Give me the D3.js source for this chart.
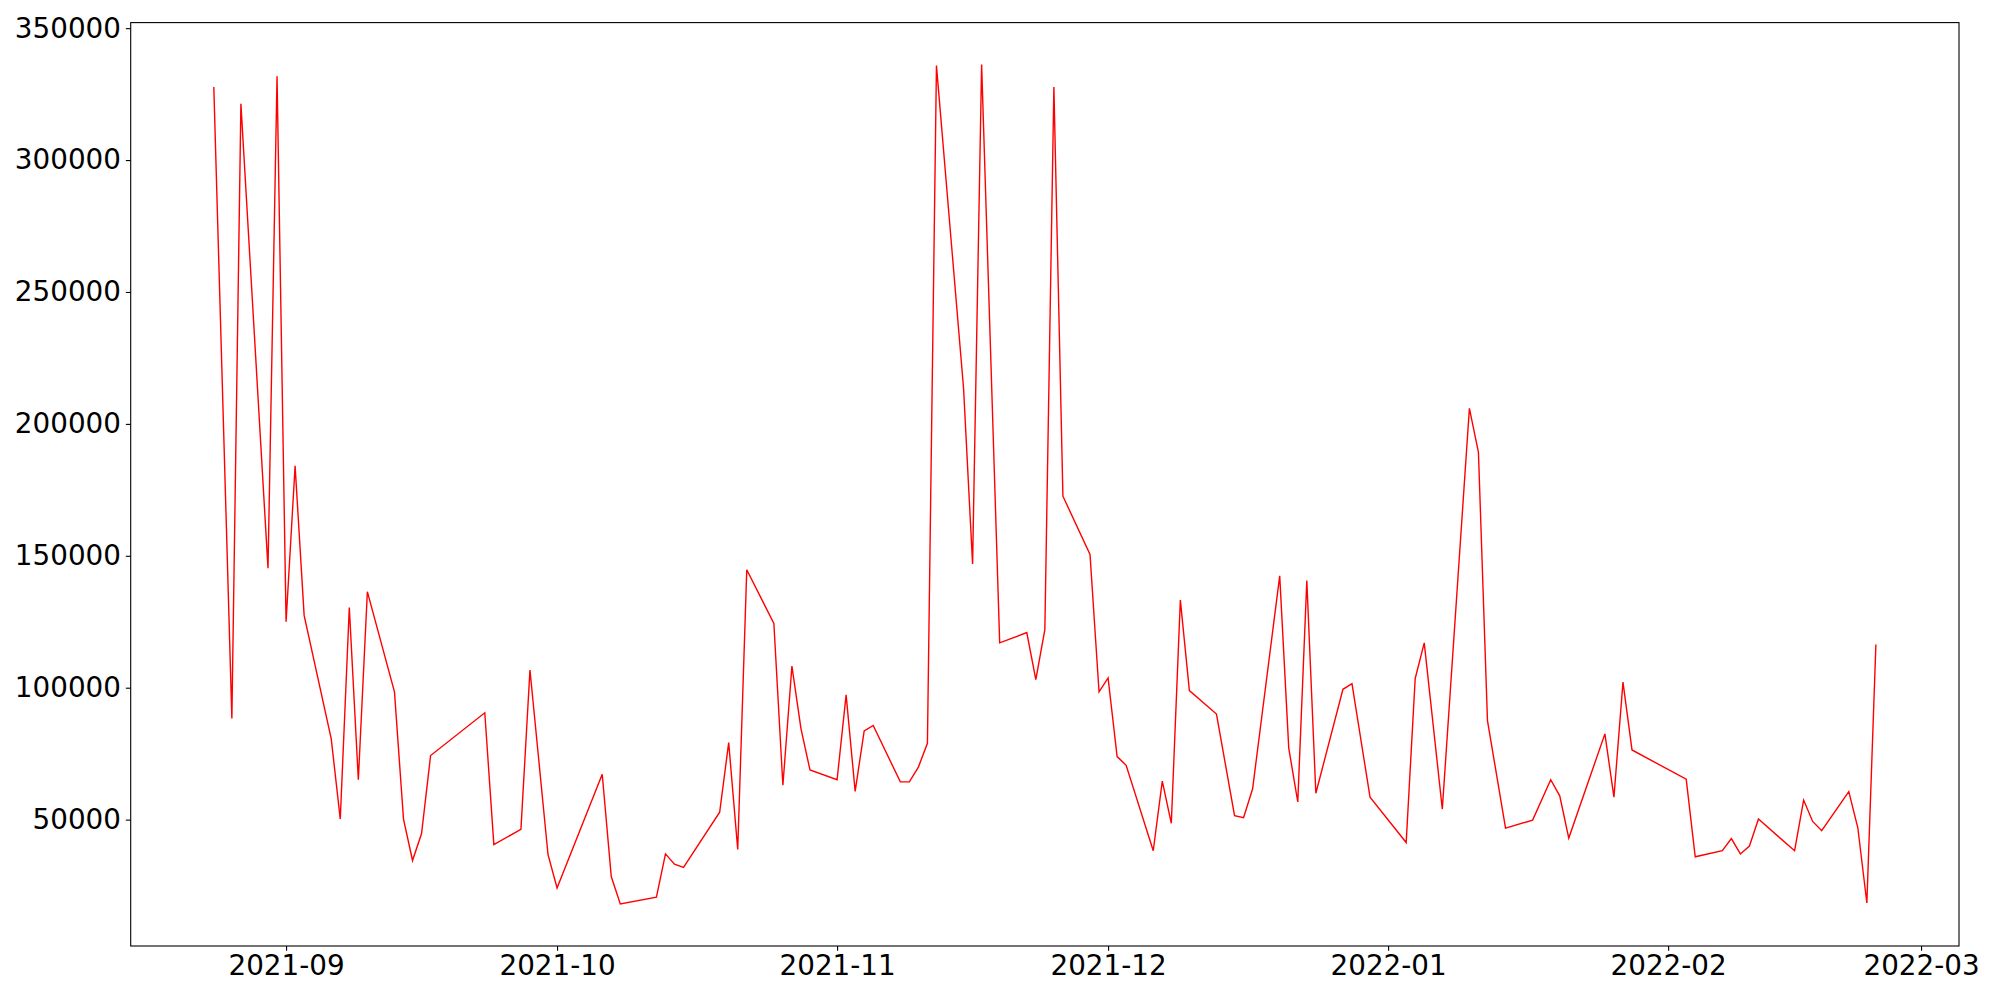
<!DOCTYPE html>
<html>
<head>
<meta charset="utf-8">
<script src="https://cdn.jsdelivr.net/npm/d3@7"></script>
<style>
  body { margin: 0; background: #fff; }
  #chart text { font-family: "DejaVu Sans", sans-serif; }
</style>
</head>
<body>
<div id="chart"></div>
<script>
// dates (trading days) and values
const dates = [
  '2021-08-24', '2021-08-26', '2021-08-27', '2021-08-30', '2021-08-31',
  '2021-09-01', '2021-09-02', '2021-09-03', '2021-09-06', '2021-09-07', '2021-09-08', '2021-09-09', '2021-09-10',
  '2021-09-13', '2021-09-14', '2021-09-15', '2021-09-16', '2021-09-17', '2021-09-23', '2021-09-24',
  '2021-09-27', '2021-09-28', '2021-09-30', '2021-10-01',
  '2021-10-06', '2021-10-07', '2021-10-08', '2021-10-12', '2021-10-13', '2021-10-14', '2021-10-15',
  '2021-10-19', '2021-10-20', '2021-10-21', '2021-10-22', '2021-10-25', '2021-10-26', '2021-10-27', '2021-10-28', '2021-10-29',
  '2021-11-01', '2021-11-02', '2021-11-03', '2021-11-04', '2021-11-05',
  '2021-11-08', '2021-11-09', '2021-11-10', '2021-11-11', '2021-11-12',
  '2021-11-15', '2021-11-16', '2021-11-17', '2021-11-19',
  '2021-11-22', '2021-11-23', '2021-11-24', '2021-11-25', '2021-11-26',
  '2021-11-29', '2021-11-30', '2021-12-01', '2021-12-02', '2021-12-03',
  '2021-12-06', '2021-12-07', '2021-12-08', '2021-12-09', '2021-12-10',
  '2021-12-13', '2021-12-15', '2021-12-16', '2021-12-17',
  '2021-12-20', '2021-12-21', '2021-12-22', '2021-12-23', '2021-12-24',
  '2021-12-27', '2021-12-28', '2021-12-30',
  '2022-01-03', '2022-01-04', '2022-01-05', '2022-01-07',
  '2022-01-10', '2022-01-11', '2022-01-12', '2022-01-14',
  '2022-01-17', '2022-01-19', '2022-01-20', '2022-01-21',
  '2022-01-25', '2022-01-26', '2022-01-27', '2022-01-28',
  '2022-02-03', '2022-02-04',
  '2022-02-07', '2022-02-08', '2022-02-09', '2022-02-10', '2022-02-11',
  '2022-02-15', '2022-02-16', '2022-02-17', '2022-02-18',
  '2022-02-21', '2022-02-22', '2022-02-23', '2022-02-24'
]

const values = [
  327700, 88300, 321300, 145300, 331800,
  125000, 184100, 127400, 80600, 50200, 130400, 65100, 136400,
  98400, 50200, 34500, 44700, 74300, 90500, 40500,
  46300, 106700, 36700, 24100,
  67200, 28400, 18000, 20600, 37000, 33100, 31900,
  52800, 79200, 38700, 144700, 124400, 63000, 108200, 84500, 68800,
  65100, 97300, 60700, 83600, 85700,
  64300, 64300, 69900, 78900, 335800,
  213500, 146900, 336200, 117000,
  120900, 103100, 122000, 327700, 172600,
  150500, 98400, 103700, 73900, 70600,
  38200, 64600, 48600, 133200, 98900,
  90000, 51500, 50700, 61700,
  142400, 77100, 56700, 140600, 60000,
  99400, 101500, 58500,
  41300, 103500, 117000, 54000,
  205900, 189200, 87500, 46800,
  49800, 65100, 59000, 43000,
  82500, 58500, 102100, 76400,
  65300, 35900,
  38200, 42800, 37000, 40000, 50200,
  38200, 57400, 49300, 45800,
  60600, 46900, 18400, 116400
]

const yTicks = [50000, 100000, 150000, 200000, 250000, 300000, 350000]
const xTickLabels = ['2021-09', '2021-10', '2021-11', '2021-12', '2022-01', '2022-02', '2022-03']

const parseDate = d3.utcParse('%Y-%m-%d')
const parseMonth = d3.utcParse('%Y-%m')
const data = dates.map((d, i) => ({ date: parseDate(d), value: values[i] }))

const width = 2000
const height = 1000
const margin = { top: 22.6, right: 41, bottom: 54, left: 130.7 }
const fontSize = 27.8
const tick = 4.86

// matplotlib style 5% padding around the data
const pad = (lo, hi) => [lo - (hi - lo) * 0.05, hi + (hi - lo) * 0.05]
const tExtent = d3.extent(data, d => +d.date)
const vExtent = d3.extent(data, d => d.value)
const tDomain = pad(tExtent[0], tExtent[1])

const x = d3.scaleUtc()
  .domain([new Date(tDomain[0]), new Date(tDomain[1])])
  .range([margin.left, width - margin.right])

const y = d3.scaleLinear()
  .domain(pad(vExtent[0], vExtent[1]))
  .range([height - margin.bottom, margin.top])

const svg = d3.select('#chart')
  .append('svg')
  .attr('width', width)
  .attr('height', height)

svg.append('rect')
  .attr('width', width)
  .attr('height', height)
  .attr('fill', '#fff')

const xAxis = d3.axisBottom(x)
  .tickValues(xTickLabels.map(parseMonth))
  .tickFormat((d, i) => xTickLabels[i])
  .tickSizeInner(tick)
  .tickSizeOuter(0)
  .tickPadding(tick)

const yAxis = d3.axisLeft(y)
  .tickValues(yTicks)
  .tickFormat(d3.format('d'))
  .tickSizeInner(tick)
  .tickSizeOuter(0)
  .tickPadding(tick)

const gx = svg.append('g')
  .attr('transform', `translate(0, ${height - margin.bottom})`)
  .call(xAxis)

const gy = svg.append('g')
  .attr('transform', `translate(${margin.left}, 0)`)
  .call(yAxis)

for (const g of [gx, gy]) {
  g.select('.domain').remove()
  g.selectAll('line').attr('stroke', '#000').attr('stroke-width', 1.1)
  g.selectAll('text')
    .attr('fill', '#000')
    .style('font-size', fontSize + 'px')
}

const line = d3.line()
  .x(d => x(d.date))
  .y(d => y(d.value))

svg.append('path')
  .datum(data)
  .attr('fill', 'none')
  .attr('stroke', '#ff0000')
  .attr('stroke-width', 1.4)
  .attr('stroke-linejoin', 'miter')
  .attr('d', line)

// frame around the plot area
svg.append('rect')
  .attr('x', margin.left)
  .attr('y', margin.top)
  .attr('width', width - margin.left - margin.right)
  .attr('height', height - margin.top - margin.bottom)
  .attr('fill', 'none')
  .attr('stroke', '#000')
  .attr('stroke-width', 1.1)
</script>
</body>
</html>
